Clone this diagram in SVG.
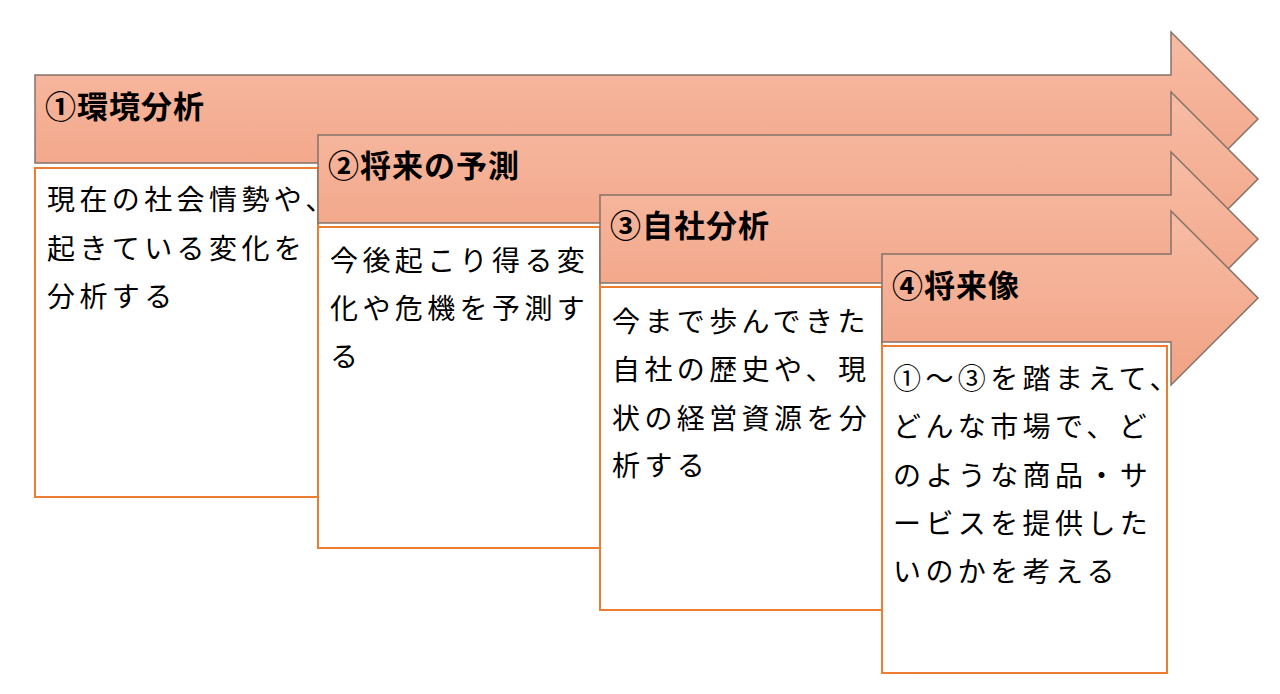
<svg xmlns="http://www.w3.org/2000/svg" width="1280" height="694" viewBox="0 0 1280 694">
<style>
.arrow{fill:url(#g);stroke:#857269;stroke-width:1.5;stroke-linejoin:miter}
.box{fill:#ffffff;stroke:#ed7d31;stroke-width:2}
.title{font-family:"Noto Sans CJK JP","Noto Sans CJK SC",sans-serif;font-size:31px;font-weight:bold;letter-spacing:1px;fill:#000}
.body{font-family:"Noto Sans CJK JP","Noto Sans CJK SC",sans-serif;font-size:28px;letter-spacing:4.4px;fill:#000}
</style>
<defs>
<linearGradient id="g" x1="0" y1="0" x2="0" y2="1">
<stop offset="0" stop-color="#f7bca5"/>
<stop offset="1" stop-color="#f1a283"/>
</linearGradient>
</defs>
<rect width="1280" height="694" fill="#ffffff"/>
<g id="step1">
<path class="arrow" d="M35,75 H1171 V32 L1258,119 L1171,206 V163 H35 Z"/>
<text class="title" x="45" y="118">①環境分析</text>
<rect class="box" x="35" y="168" width="283" height="329"/>
<text class="body" x="47" y="210">現在の社会情勢や、</text>
<text class="body" x="47" y="259">起きている変化を</text>
<text class="body" x="47" y="307">分析する</text>
</g>
<g id="step2">
<path class="arrow" d="M318,135 H1171 V92 L1258,179 L1171,266 V223 H318 Z"/>
<text class="title" x="328" y="177">②将来の予測</text>
<rect class="box" x="318" y="227" width="282" height="321"/>
<text class="body" x="330" y="271">今後起こり得る変</text>
<text class="body" x="330" y="319">化や危機を予測す</text>
<text class="body" x="330" y="367">る</text>
</g>
<g id="step3">
<path class="arrow" d="M600,195 H1171 V152 L1258,239 L1171,326 V283 H600 Z"/>
<text class="title" x="610" y="237">③自社分析</text>
<rect class="box" x="600" y="287" width="282" height="323"/>
<text class="body" x="612" y="332">今まで歩んできた</text>
<text class="body" x="612" y="380">自社の歴史や、現</text>
<text class="body" x="612" y="429">状の経営資源を分</text>
<text class="body" x="612" y="476">析する</text>
</g>
<g id="step4">
<path class="arrow" d="M882,254 H1171 V211 L1258,298 L1171,385 V342 H882 Z"/>
<text class="title" x="892" y="297">④将来像</text>
<rect class="box" x="882" y="346" width="285" height="327"/>
<text class="body" x="893" y="389">①～③を踏まえて、</text>
<text class="body" x="893" y="437">どんな市場で、ど</text>
<text class="body" x="893" y="486">のような商品・サ</text>
<text class="body" x="893" y="534">ービスを提供した</text>
<text class="body" x="893" y="582">いのかを考える</text>
</g>
<g id="connectors"></g>
</svg>
